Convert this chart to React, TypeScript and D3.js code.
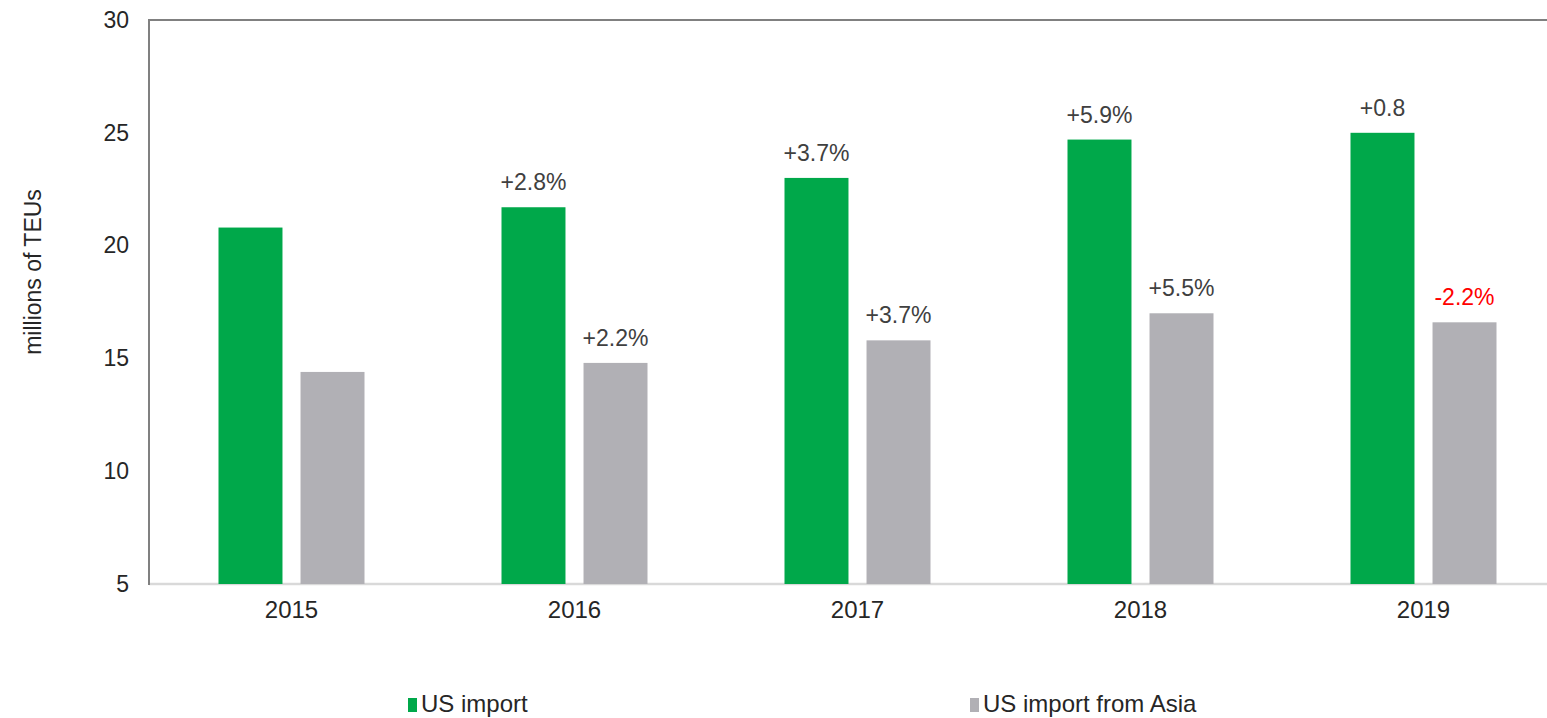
import React, { useEffect, useRef } from 'react';
import * as d3 from 'd3';

const years = ['2015', '2016', '2017', '2018', '2019'];
const series = ['US import', 'US import from Asia'];
const usImport = [20.8, 21.7, 23.0, 24.7, 25.0];
const usImportAsia = [14.4, 14.8, 15.8, 17.0, 16.6];
const usImportLabels = ['', '+2.8%', '+3.7%', '+5.9%', '+0.8'];
const asiaLabels = ['', '+2.2%', '+3.7%', '+5.5%', '-2.2%'];
const yTicks = [5, 10, 15, 20, 25, 30];
const colors = ['#00a84a', '#b1b0b5'];

export default function App() {
  const svgRef = useRef(null);
  const width = 1547;
  const height = 718;

  useEffect(() => {
    const svg = d3.select(svgRef.current);
    svg.selectAll('*').remove();
    const font = '"Liberation Sans", Arial, sans-serif';
    const left = 149;
    const top = 20;
    const bottom = 584;

    const x0 = d3.scaleBand().domain(years).range([left + 1, left + 1 + 283 * 5]).padding(0);
    const x1 = d3.scaleBand().domain(series).range([-73, 73]).paddingInner(0.22);
    const y = d3.scaleLinear().domain([5, 30]).range([bottom, top]);

    // frame
    svg.append('line').attr('x1', left).attr('x2', width).attr('y1', bottom).attr('y2', bottom)
      .attr('stroke', '#d9d9d9').attr('stroke-width', 2.5);
    svg.append('line').attr('x1', left).attr('x2', width).attr('y1', top).attr('y2', top)
      .attr('stroke', '#808080').attr('stroke-width', 2);
    svg.append('line').attr('x1', left).attr('x2', left).attr('y1', top - 1).attr('y2', bottom + 1)
      .attr('stroke', '#808080').attr('stroke-width', 2);

    const yAxis = svg.append('g')
      .attr('transform', `translate(${left - 20},0)`)
      .call(d3.axisLeft(y).tickValues(yTicks).tickSize(0).tickPadding(0));
    yAxis.select('.domain').remove();
    yAxis.selectAll('text')
      .attr('font-family', font).attr('font-size', 23).attr('fill', '#262626');

    svg.append('text')
      .attr('transform', `translate(41,${(top + bottom) / 2 - 30}) rotate(-90)`)
      .attr('text-anchor', 'middle')
      .attr('font-family', font).attr('font-size', 23).attr('fill', '#262626')
      .text('millions of TEUs');

    const xAxis = svg.append('g')
      .attr('transform', `translate(0,${bottom})`)
      .call(d3.axisBottom(x0).tickSize(0).tickPadding(17));
    xAxis.select('.domain').remove();
    xAxis.selectAll('text')
      .attr('font-family', font).attr('font-size', 24).attr('fill', '#262626');

    const values = [usImport, usImportAsia];
    const labels = [usImportLabels, asiaLabels];
    series.forEach((s, si) => {
      const g = svg.append('g');
      g.selectAll('rect')
        .data(values[si])
        .join('rect')
        .attr('x', (d, i) => x0(years[i]) + x0.bandwidth() / 2 + x1(s))
        .attr('width', x1.bandwidth())
        .attr('y', (d) => y(d))
        .attr('height', (d) => y(5) - y(d))
        .attr('fill', colors[si]);
      g.selectAll('text')
        .data(values[si])
        .join('text')
        .attr('x', (d, i) => x0(years[i]) + x0.bandwidth() / 2 + x1(s) + x1.bandwidth() / 2)
        .attr('y', (d) => y(d) - 17)
        .attr('text-anchor', 'middle')
        .attr('font-family', font).attr('font-size', 23)
        .attr('fill', (d, i) => (labels[si][i].startsWith('-') ? '#ff0000' : '#404040'))
        .text((d, i) => labels[si][i]);
    });

    // legend
    const legendX = [408, 970];
    series.forEach((s, si) => {
      svg.append('rect').attr('x', legendX[si]).attr('y', 698).attr('width', 9).attr('height', 14)
        .attr('fill', colors[si]);
      svg.append('text').attr('x', legendX[si] + 13).attr('y', 712)
        .attr('font-family', font).attr('font-size', 24).attr('fill', '#262626')
        .text(s);
    });
  }, []);

  return (
    <div style={{ position: 'absolute', left: 0, top: 0 }}>
      <svg ref={svgRef} width={width} height={height} style={{ display: 'block', background: '#fff' }} />
    </div>
  );
}
